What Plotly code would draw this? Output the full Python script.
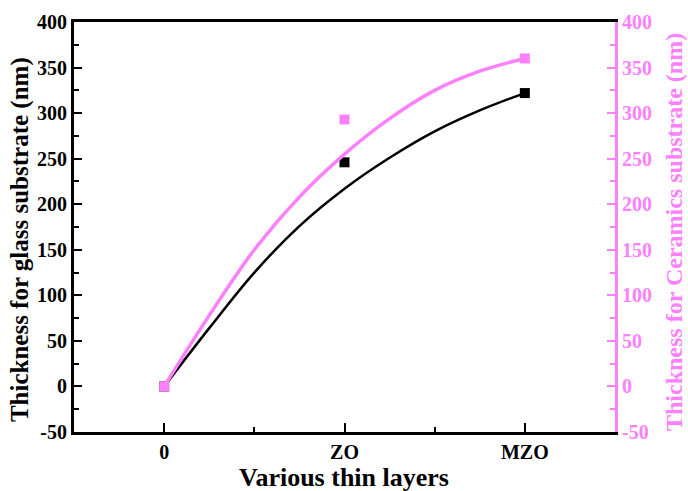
import plotly.graph_objects as go

categories = ["0", "ZO", "MZO"]
glass = [0, 246, 322]
ceramics = [0, 293, 360]

# fitted curves (category position -> value)
fit_pos = [0, 0.25, 0.5, 0.75, 1.0, 1.25, 1.5, 1.75, 2.0]
glass_fit = [0, 64, 125, 176, 217, 251, 280, 303, 322]
ceramics_fit = [0, 78, 150, 208, 255, 294, 325, 346, 360]

yticks = [-50, 0, 50, 100, 150, 200, 250, 300, 350, 400]
ytick_text = ["-50", "0", "50", "100", "150", "200", "250", "300", "350", "400"]

BLACK = "#000000"
PINK = "#FF80FF"
FONT = "Liberation Serif"

pos = list(range(len(categories)))

fig = go.Figure()
fig.add_trace(go.Scatter(x=fit_pos, y=glass_fit, mode="lines", line=dict(color=BLACK, width=2.5, shape="spline"),
                         showlegend=False, yaxis="y"))
fig.add_trace(go.Scatter(x=pos, y=glass, mode="markers", marker=dict(symbol="square", size=10, color=BLACK),
                         showlegend=False, yaxis="y"))
fig.add_trace(go.Scatter(x=fit_pos, y=ceramics_fit, mode="lines", line=dict(color=PINK, width=3.5, shape="spline"),
                         showlegend=False, yaxis="y2"))
fig.add_trace(go.Scatter(x=pos, y=ceramics, mode="markers", marker=dict(symbol="square", size=10, color=PINK),
                         showlegend=False, yaxis="y2"))

fig.update_layout(
    width=688, height=491,
    margin=dict(l=74, r=73, t=22, b=59, autoexpand=False),
    plot_bgcolor="white", paper_bgcolor="white",
    font=dict(family=FONT, size=20, color=BLACK),
    xaxis=dict(
        range=[-0.5, 2.5], tickvals=pos, ticktext=categories, automargin=False,
        showline=True, linecolor=BLACK, linewidth=3, mirror=True,
        ticks="inside", ticklen=9, tickwidth=2, tickcolor=BLACK,
        minor=dict(ticks="inside", ticklen=5, tickwidth=2, dtick=0.5, tick0=0, tickcolor=BLACK),
        showgrid=False, zeroline=False,
        tickfont=dict(family=FONT, size=20, color=BLACK, weight="bold"),
    ),
    yaxis=dict(
        range=[-50, 400], tickvals=yticks, ticktext=ytick_text, automargin=False,
        showline=True, linecolor=BLACK, linewidth=3,
        ticks="inside", ticklen=8, tickwidth=2, tickcolor=BLACK,
        minor=dict(ticks="inside", ticklen=5, tickwidth=2, dtick=25, tick0=0, tickcolor=BLACK),
        showgrid=False, zeroline=False,
        tickfont=dict(family=FONT, size=20, color=BLACK, weight="bold"),
    ),
    yaxis2=dict(
        range=[-50, 400], tickvals=yticks, ticktext=ytick_text, overlaying="y", side="right", automargin=False,
        showline=True, linecolor=PINK, linewidth=3,
        ticks="inside", ticklen=8, tickwidth=2, tickcolor=PINK,
        minor=dict(ticks="inside", ticklen=5, tickwidth=2, dtick=25, tick0=0, tickcolor=PINK),
        showgrid=False, zeroline=False,
        tickfont=dict(family=FONT, size=20, color=PINK, weight="bold"),
    ),
    annotations=[
        dict(text="<b>Various thin layers</b>", xref="paper", yref="paper", x=0.499, y=-0.112,
             xanchor="center", yanchor="middle", showarrow=False,
             font=dict(family=FONT, size=26, color=BLACK)),
        dict(text="<b>Thickness for glass substrate (nm)</b>", xref="paper", yref="paper",
             x=-54 / 541, y=0.468, xanchor="center", yanchor="middle", textangle=-90, showarrow=False,
             font=dict(family=FONT, size=25, color=BLACK)),
        dict(text="<b>Thickness for Ceramics substrate (nm)</b>", xref="paper", yref="paper",
             x=1.110, y=0.4866, xanchor="center", yanchor="middle", textangle=-90, showarrow=False,
             font=dict(family=FONT, size=24, color=PINK)),
    ],
)

fig.write_html("out.html", config={"displayModeBar": False},
               post_script="document.body.style.margin='0px';document.body.style.overflow='hidden';")
